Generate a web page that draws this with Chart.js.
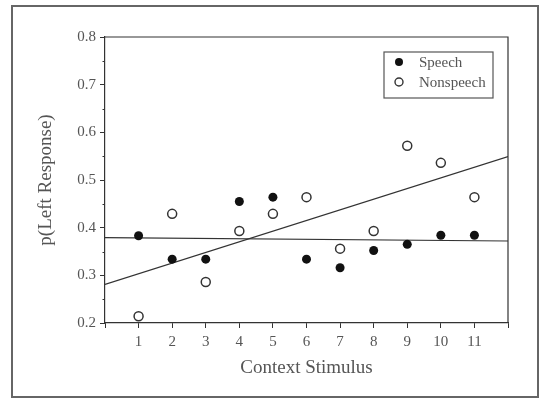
<!DOCTYPE html>
<html>
<head>
<meta charset="utf-8">
<script src="https://cdn.jsdelivr.net/npm/chart.js@4/dist/chart.umd.min.js"></script>
<style>
  body { margin: 0; background: #fff; }
  canvas { display: block; }
</style>
</head>
<body>
<canvas id="scatterChart" width="541" height="399"></canvas>
<script>
// data
const stimulus = [1, 2, 3, 4, 5, 6, 7, 8, 9, 10, 11];
const speech = [0.383, 0.334, 0.334, 0.455, 0.464, 0.334, 0.316, 0.352, 0.365, 0.384, 0.384];
const nonspeech = [0.214, 0.429, 0.286, 0.393, 0.429, 0.464, 0.356, 0.393, 0.572, 0.536, 0.464];
const fitX = [0, 12];
const speechFit = [0.379, 0.372];
const nonspeechFit = [0.281, 0.549];
const legendLabels = ['Speech', 'Nonspeech'];

const ink = '#333';
const textInk = '#555';
const serif = "'Liberation Serif', 'DejaVu Serif', serif";

function pts(xs, ys) {
  return xs.map((x, i) => ({ x: x, y: ys[i] }));
}

// frame, box around plot, minor ticks and the boxed legend
const decor = {
  id: 'decor',
  afterDraw(chart) {
    const ctx = chart.ctx;
    const a = chart.chartArea;
    const yS = chart.scales.y;
    ctx.save();
    ctx.strokeStyle = '#666';
    ctx.lineWidth = 2;
    ctx.strokeRect(12, 6, 526, 391);

    ctx.strokeStyle = ink;
    ctx.lineWidth = 1.2;
    ctx.beginPath();
    ctx.moveTo(a.left, a.top);
    ctx.lineTo(a.right, a.top);
    ctx.lineTo(a.right, a.bottom);
    ctx.stroke();

    // minor ticks at the half steps
    ctx.lineWidth = 1;
    for (let v = 0.25; v < 0.8; v += 0.1) {
      const py = Math.round(yS.getPixelForValue(v)) + 0.5;
      ctx.beginPath();
      ctx.moveTo(a.left - 2.5, py);
      ctx.lineTo(a.left, py);
      ctx.stroke();
    }

    // legend
    ctx.lineWidth = 1.2;
    ctx.strokeStyle = '#555';
    ctx.strokeRect(384, 52, 109, 46);
    ctx.font = '15px ' + serif;
    ctx.fillStyle = textInk;
    ctx.textBaseline = 'middle';
    legendLabels.forEach((lab, i) => {
      const cy = 62 + i * 20;
      ctx.beginPath();
      ctx.arc(399, cy, 4, 0, Math.PI * 2);
      if (i === 0) {
        ctx.fillStyle = '#111';
        ctx.fill();
      } else {
        ctx.lineWidth = 1.4;
        ctx.strokeStyle = '#333';
        ctx.stroke();
      }
      ctx.fillStyle = textInk;
      ctx.fillText(lab, 419, cy + 1);
    });
    ctx.restore();
  }
};

new Chart(document.getElementById('scatterChart'), {
  type: 'scatter',
  data: {
    datasets: [
      {
        label: 'Speech',
        data: pts(stimulus, speech),
        backgroundColor: '#111',
        borderColor: '#111',
        pointRadius: 4.5,
        pointBorderWidth: 0
      },
      {
        label: 'Nonspeech',
        data: pts(stimulus, nonspeech),
        backgroundColor: '#fff',
        borderColor: '#333',
        pointRadius: 4.5,
        pointBorderWidth: 1.5
      },
      {
        type: 'line',
        label: 'Speech fit',
        data: pts(fitX, speechFit),
        borderColor: ink,
        borderWidth: 1.2,
        pointRadius: 0,
        fill: false
      },
      {
        type: 'line',
        label: 'Nonspeech fit',
        data: pts(fitX, nonspeechFit),
        borderColor: ink,
        borderWidth: 1.2,
        pointRadius: 0,
        fill: false
      }
    ]
  },
  options: {
    responsive: false,
    animation: false,
    layout: { padding: { top: 37, right: 33, left: 0, bottom: 0 } },
    plugins: {
      legend: { display: false },
      tooltip: { enabled: false }
    },
    scales: {
      x: {
        type: 'linear',
        min: 0,
        max: 12,
        afterFit: s => { s.height = 76; },
        ticks: {
          stepSize: 1,
          color: textInk,
          padding: 5,
          font: { family: serif, size: 15 },
          callback: v => (v >= 1 && v <= 11) ? v : ''
        },
        grid: { drawOnChartArea: false, tickLength: 5, color: ink },
        border: { color: ink, width: 1.2 },
        title: {
          display: true,
          text: 'Context Stimulus',
          color: textInk,
          font: { family: serif, size: 19 },
          padding: { top: 20, bottom: 20 }
        }
      },
      y: {
        min: 0.2,
        max: 0.8,
        afterFit: s => { s.width = 105; },
        ticks: {
          stepSize: 0.1,
          color: textInk,
          padding: 4,
          font: { family: serif, size: 15 },
          callback: v => v.toFixed(1)
        },
        grid: { drawOnChartArea: false, tickLength: 5, color: ink },
        border: { color: ink, width: 1.2 },
        title: {
          display: true,
          text: 'p(Left Response)',
          color: textInk,
          font: { family: serif, size: 19 },
          padding: { top: 35, bottom: 0 }
        }
      }
    }
  },
  plugins: [decor]
});
</script>
</body>
</html>
